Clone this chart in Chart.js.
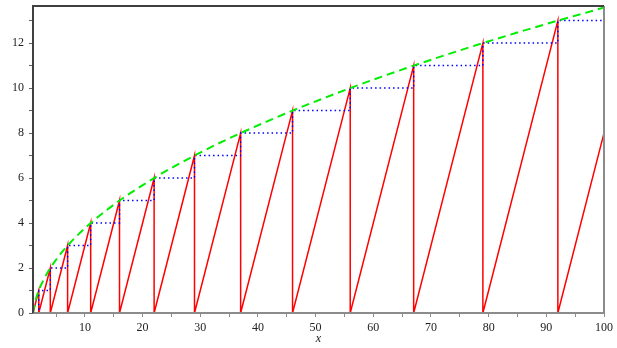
<!DOCTYPE html>
<html>
<head>
<meta charset="utf-8">
<script src="https://cdn.jsdelivr.net/npm/chart.js@4"></script>
<style>
  html, body { margin: 0; padding: 0; background: #fff; }
  #wrap { width: 617px; height: 348px; }
</style>
</head>
<body>
<div id="wrap"><canvas id="myChart" width="617" height="348"></canvas></div>
<script>
// sawtooth (red)
const redX = [1, 2, 2, 4, 4, 7, 7, 11, 11, 16, 16, 22, 22, 29, 29, 37, 37, 46, 46, 56, 56, 67, 67, 79, 79, 92, 92, 100];
const redY = [0, 1, 0, 2, 0, 3, 0, 4, 0, 5, 0, 6, 0, 7, 0, 8, 0, 9, 0, 10, 0, 11, 0, 12, 0, 13, 0, 8];
// staircase (blue dotted)
const blueX = [1, 2, 2, 4, 4, 7, 7, 11, 11, 16, 16, 22, 22, 29, 29, 37, 37, 46, 46, 56, 56, 67, 67, 79, 79, 92, 92, 100];
const blueY = [0, 0, 1, 1, 2, 2, 3, 3, 4, 4, 5, 5, 6, 6, 7, 7, 8, 8, 9, 9, 10, 10, 11, 11, 12, 12, 13, 13];
// envelope (green dashed)
const greenX = [1, 1.25, 1.5, 2, 3, 4, 5.5, 7, 9, 11, 13.5, 16, 19, 22, 25.5, 29, 33, 37, 41.5, 46, 51, 56, 61.5, 67, 73, 79, 85.5, 92, 96, 100];
const greenY = [0, 0.37, 0.62, 1, 1.56, 2, 2.54, 3, 3.53, 4, 4.52, 5, 5.52, 6, 6.52, 7, 7.52, 8, 8.51, 9, 9.51, 10, 10.51, 11, 11.51, 12, 12.51, 13, 13.29, 13.58];
const xTicks = [5, 10, 15, 20, 25, 30, 35, 40, 45, 50, 55, 60, 65, 70, 75, 80, 85, 90, 95, 100];
const yTicks = [0, 1, 2, 3, 4, 5, 6, 7, 8, 9, 10, 11, 12, 13];

function punti(xs, ys) {
	return xs.map((x, i) => ({ x: x, y: ys[i] }));
}

const cornice = {
	id: "cornice",
	afterDatasetsDraw(chart) {
		const a = chart.chartArea;
		const ctx = chart.ctx;
		ctx.save();
		ctx.lineWidth = 2;
		ctx.strokeStyle = "#8c8c8c";
		ctx.beginPath();
		ctx.moveTo(a.right, a.top);
		ctx.lineTo(a.right, a.bottom);
		ctx.lineTo(a.left, a.bottom);
		ctx.stroke();
		ctx.strokeStyle = "#404040";
		ctx.beginPath();
		ctx.moveTo(a.left, a.bottom);
		ctx.lineTo(a.left, a.top);
		ctx.lineTo(a.right, a.top);
		ctx.stroke();
		ctx.restore();
	},
};

const serif = { family: "'Liberation Serif', 'DejaVu Serif', serif", size: 12 };

new Chart(document.getElementById("myChart").getContext("2d"), {
	type: "scatter",
	data: {
		datasets: [
			{
				data: punti(greenX, greenY),
				showLine: true,
				borderColor: "#00ee00",
				borderWidth: 2,
				borderDash: [8, 5],
				cubicInterpolationMode: "monotone",
				pointRadius: 0,
			},
			{
				data: punti(blueX, blueY),
				showLine: true,
				borderColor: "#0000ff",
				borderWidth: 1.5,
				borderDash: [1.5, 3],
				pointRadius: 0,
			},
			{
				data: punti(redX, redY),
				showLine: true,
				borderColor: "#ff0000",
				borderWidth: 1.5,
				pointRadius: 0,
			},
		],
	},
	options: {
		responsive: false,
		animation: false,
		layout: { padding: { top: 6, right: 13, left: 0, bottom: 0 } },
		plugins: { legend: { display: false }, tooltip: { enabled: false } },
		scales: {
			x: {
				type: "linear",
				min: 1,
				max: 100,
				afterBuildTicks: (s) => { s.ticks = xTicks.map((v) => ({ value: v })); },
				afterFit: (s) => { s.height = 35; s.paddingLeft = 0; s.paddingRight = 0; },
				grid: { drawOnChartArea: false, tickLength: 4, color: "#8c8c8c" },
				border: { display: false },
				ticks: {
					autoSkip: false,
					maxRotation: 0,
					padding: 4,
					color: "#222",
					font: serif,
					callback: (v) => (v % 10 === 0 ? v : ""),
				},
				title: {
					display: true,
					text: "x",
					color: "#222",
					padding: { top: 0, bottom: 2 },
					font: { family: "'Liberation Serif', serif", size: 12, style: "italic" },
				},
			},
			y: {
				min: 0,
				max: 13.65,
				afterBuildTicks: (s) => { s.ticks = yTicks.map((v) => ({ value: v })); },
				afterFit: (s) => { s.width = 33; s.paddingTop = 0; s.paddingBottom = 0; },
				grid: { drawOnChartArea: false, tickLength: 4, color: "#666" },
				border: { display: false },
				ticks: {
					autoSkip: false,
					padding: 5,
					color: "#222",
					font: serif,
					callback: (v) => (v % 2 === 0 ? v : ""),
				},
			},
		},
	},
	plugins: [cornice],
});
</script>
</body>
</html>
